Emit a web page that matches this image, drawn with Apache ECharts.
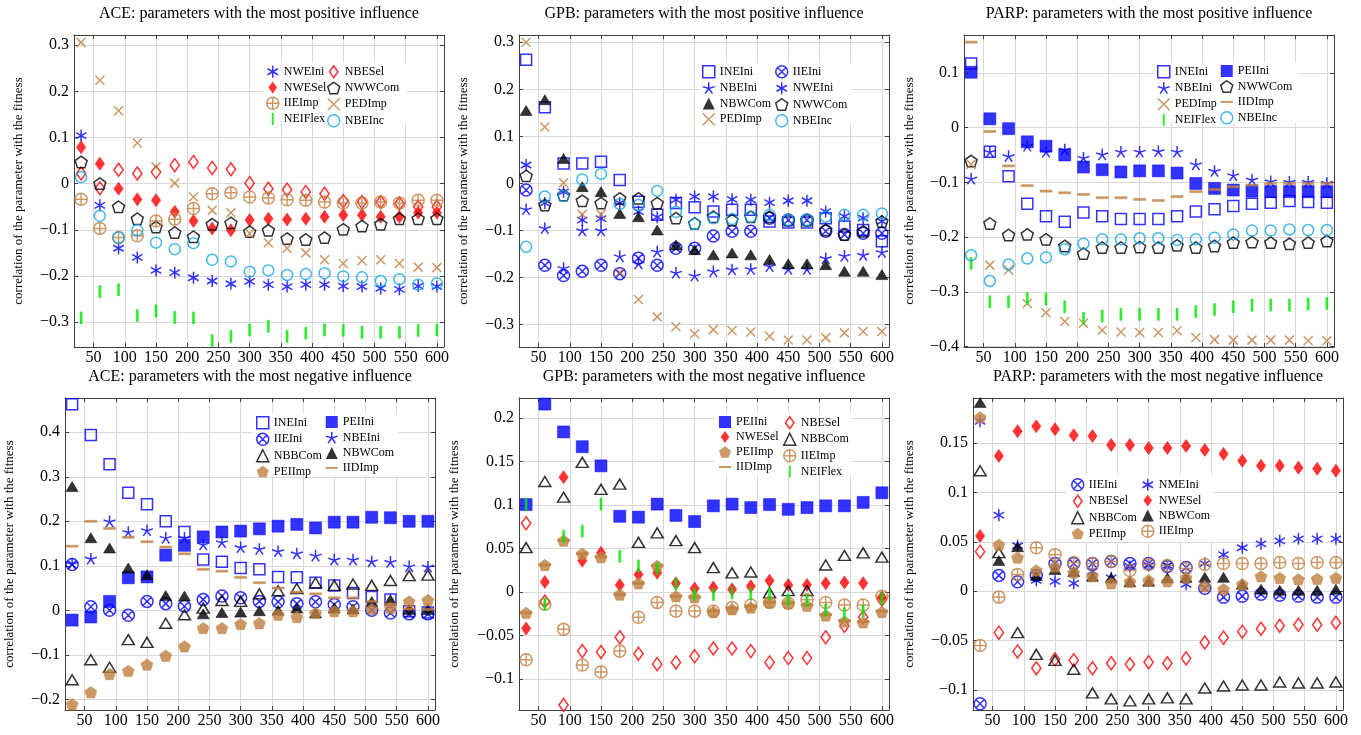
<!DOCTYPE html>
<html><head><meta charset="utf-8">
<script src="https://cdn.jsdelivr.net/npm/echarts@6/dist/echarts.min.js"></script>
<style>html,body{margin:0;padding:0;background:#fff}#c{width:1361px;height:735px}</style>
</head><body><div id="c"></div>
<script>
// ---------- data ----------
const xValues = [30,60,90,120,150,180,210,240,270,300,330,360,390,420,450,480,510,540,570,600];
const xTicks = [50,100,150,200,250,300,350,400,450,500,550,600];

// ACE: most positive
const acePos_NWEIni = [0.104,-0.047,-0.140,-0.160,-0.188,-0.193,-0.204,-0.211,-0.217,-0.212,-0.219,-0.223,-0.219,-0.219,-0.222,-0.223,-0.227,-0.229,-0.222,-0.223];
const acePos_NBESel = [0.022,-0.010,0.030,0.022,0.025,0.040,0.047,0.034,0.031,0.001,-0.011,-0.013,-0.018,-0.022,-0.038,-0.040,-0.040,-0.043,-0.050,-0.050];
const acePos_NWESel = [0.079,0.043,-0.011,-0.034,-0.036,-0.061,-0.081,-0.097,-0.101,-0.079,-0.076,-0.078,-0.076,-0.072,-0.068,-0.068,-0.072,-0.072,-0.063,-0.063];
const acePos_NWWCom = [0.047,0.000,-0.050,-0.076,-0.094,-0.106,-0.115,-0.088,-0.085,-0.104,-0.101,-0.119,-0.121,-0.117,-0.099,-0.092,-0.088,-0.076,-0.076,-0.076];
const acePos_IIEImp = [-0.034,-0.097,-0.117,-0.113,-0.081,-0.077,-0.054,-0.022,-0.020,-0.029,-0.031,-0.035,-0.036,-0.040,-0.042,-0.042,-0.040,-0.042,-0.036,-0.036];
const acePos_PEDImp = [0.306,0.224,0.158,0.088,0.036,0.001,-0.029,-0.058,-0.063,-0.108,-0.128,-0.140,-0.150,-0.165,-0.173,-0.167,-0.165,-0.173,-0.181,-0.182];
const acePos_NEIFlex = [-0.291,-0.234,-0.230,-0.286,-0.276,-0.290,-0.291,-0.340,-0.331,-0.317,-0.309,-0.331,-0.324,-0.317,-0.318,-0.322,-0.322,-0.322,-0.318,-0.317];
const acePos_NBEInc = [0.014,-0.070,-0.117,-0.101,-0.128,-0.142,-0.129,-0.165,-0.169,-0.191,-0.188,-0.198,-0.196,-0.194,-0.201,-0.203,-0.211,-0.207,-0.219,-0.216];

// GPB: most positive
const gpbPos_INEIni = [0.263,0.162,0.042,0.042,0.046,0.007,-0.039,-0.067,-0.042,-0.051,-0.060,-0.056,-0.056,-0.081,-0.083,-0.083,-0.074,-0.092,-0.099,-0.123];
const gpbPos_IIEIni = [-0.014,-0.174,-0.196,-0.187,-0.174,-0.192,-0.159,-0.174,-0.138,-0.138,-0.112,-0.102,-0.102,-0.074,-0.078,-0.078,-0.102,-0.109,-0.106,-0.106];
const gpbPos_NBEIni = [-0.055,-0.095,-0.180,-0.100,-0.100,-0.155,-0.170,-0.145,-0.190,-0.196,-0.187,-0.183,-0.182,-0.176,-0.182,-0.182,-0.159,-0.154,-0.152,-0.146];
const gpbPos_NWEIni = [0.039,-0.042,-0.018,-0.078,-0.075,-0.042,-0.060,-0.072,-0.035,-0.028,-0.028,-0.034,-0.035,-0.041,-0.037,-0.037,-0.060,-0.070,-0.074,-0.081];
const gpbPos_NBWCom = [0.155,0.178,0.053,-0.007,-0.018,-0.064,-0.071,-0.099,-0.131,-0.141,-0.152,-0.148,-0.152,-0.162,-0.171,-0.171,-0.173,-0.187,-0.187,-0.194];
const gpbPos_NWWCom = [0.016,-0.046,-0.025,-0.037,-0.042,-0.032,-0.032,-0.042,-0.074,-0.085,-0.071,-0.078,-0.071,-0.071,-0.078,-0.078,-0.099,-0.109,-0.102,-0.081];
const gpbPos_PEDImp = [0.300,0.120,0.001,-0.066,-0.066,-0.189,-0.247,-0.284,-0.305,-0.320,-0.311,-0.313,-0.316,-0.325,-0.333,-0.333,-0.328,-0.318,-0.315,-0.315];
const gpbPos_NBEInc = [-0.135,-0.028,-0.027,0.008,0.020,-0.044,-0.046,-0.016,-0.061,-0.086,-0.074,-0.076,-0.071,-0.067,-0.078,-0.078,-0.071,-0.067,-0.067,-0.064];

// PARP: most positive
const parpPos_INEIni = [0.117,-0.044,-0.089,-0.139,-0.162,-0.172,-0.155,-0.162,-0.167,-0.167,-0.167,-0.162,-0.153,-0.149,-0.143,-0.139,-0.137,-0.134,-0.136,-0.137];
const parpPos_PEIIni = [0.101,0.016,-0.002,-0.026,-0.034,-0.050,-0.072,-0.077,-0.081,-0.079,-0.079,-0.083,-0.102,-0.111,-0.114,-0.116,-0.117,-0.117,-0.117,-0.117];
const parpPos_NBEIni = [-0.093,-0.044,-0.052,-0.033,-0.044,-0.040,-0.055,-0.049,-0.044,-0.044,-0.043,-0.044,-0.067,-0.079,-0.087,-0.095,-0.098,-0.099,-0.099,-0.101];
const parpPos_NWWCom = [-0.061,-0.175,-0.196,-0.195,-0.204,-0.216,-0.230,-0.219,-0.219,-0.218,-0.219,-0.215,-0.219,-0.216,-0.210,-0.209,-0.210,-0.212,-0.210,-0.207];
const parpPos_PEDImp = [-0.067,-0.251,-0.260,-0.321,-0.338,-0.354,-0.357,-0.370,-0.373,-0.374,-0.374,-0.371,-0.383,-0.387,-0.388,-0.388,-0.388,-0.388,-0.389,-0.389];
const parpPos_IIDImp = [0.156,-0.007,-0.070,-0.106,-0.116,-0.119,-0.122,-0.128,-0.128,-0.131,-0.133,-0.126,-0.117,-0.113,-0.108,-0.105,-0.102,-0.102,-0.102,-0.102];
const parpPos_NEIFlex = [-0.248,-0.318,-0.318,-0.312,-0.313,-0.327,-0.348,-0.344,-0.341,-0.341,-0.341,-0.341,-0.336,-0.332,-0.327,-0.324,-0.324,-0.324,-0.322,-0.321];
const parpPos_NBEInc = [-0.233,-0.280,-0.250,-0.239,-0.237,-0.222,-0.212,-0.204,-0.204,-0.202,-0.202,-0.205,-0.204,-0.201,-0.195,-0.188,-0.188,-0.186,-0.187,-0.187];

// ACE: most negative
const aceNeg_INEIni = [0.463,0.394,0.328,0.264,0.238,0.200,0.176,0.114,0.109,0.095,0.092,0.075,0.074,0.062,0.056,0.039,0.030,0.024,-0.002,-0.005];
const aceNeg_PEIIni = [-0.022,-0.015,0.020,0.073,0.075,0.124,0.146,0.165,0.176,0.178,0.183,0.189,0.193,0.185,0.198,0.198,0.209,0.208,0.200,0.200];
const aceNeg_IIEIni = [0.103,0.008,0.000,-0.011,0.020,0.015,0.009,0.024,0.032,0.028,0.020,0.019,0.015,0.019,0.013,0.008,0.000,-0.006,-0.008,-0.008];
const aceNeg_NBEIni = [0.105,0.116,0.200,0.176,0.180,0.163,0.163,0.148,0.153,0.142,0.138,0.133,0.128,0.123,0.114,0.114,0.110,0.109,0.099,0.098];
const aceNeg_NBBCom = [-0.156,-0.111,-0.128,-0.066,-0.072,-0.029,-0.010,0.005,0.022,0.020,0.037,0.044,0.049,0.062,0.056,0.059,0.056,0.067,0.078,0.079];
const aceNeg_NBWCom = [0.278,0.163,0.140,0.095,0.080,0.033,0.032,-0.008,-0.005,-0.004,-0.001,0.000,0.005,-0.006,0.005,0.003,0.020,0.024,0.002,0.002];
const aceNeg_PEIImp = [-0.211,-0.184,-0.143,-0.136,-0.122,-0.102,-0.081,-0.040,-0.040,-0.031,-0.029,-0.010,-0.015,-0.006,-0.002,-0.002,0.003,0.005,0.020,0.023];
const aceNeg_IIDImp = [0.144,0.200,0.184,0.164,0.154,0.142,0.127,0.092,0.088,0.074,0.062,0.050,0.041,0.037,0.028,0.028,0.020,0.014,0.003,0.002];

// GPB: most negative
const gpbNeg_PEIIni = [0.1005,0.216,0.184,0.167,0.145,0.087,0.086,0.101,0.088,0.081,0.099,0.101,0.097,0.1005,0.095,0.097,0.099,0.099,0.103,0.114];
const gpbNeg_NBESel = [0.079,-0.011,-0.130,-0.068,-0.069,-0.052,-0.071,-0.083,-0.081,-0.074,-0.065,-0.065,-0.068,-0.081,-0.076,-0.076,-0.052,-0.039,-0.029,-0.009];
const gpbNeg_NWESel = [-0.042,0.0115,0.132,0.036,0.045,0.008,0.020,0.022,0.010,0.004,0.005,0.003,0.0065,0.013,0.008,0.008,0.010,0.011,0.010,-0.006];
const gpbNeg_NBBCom = [0.051,0.127,0.109,0.149,0.118,0.124,0.057,0.068,0.059,0.051,0.028,0.022,0.023,-0.001,0.0015,0.0015,0.031,0.042,0.045,0.040];
const gpbNeg_PEIImp = [-0.024,0.031,0.059,0.044,0.040,-0.003,0.010,0.030,-0.005,-0.006,-0.023,-0.020,-0.018,-0.012,-0.013,-0.016,-0.027,-0.034,-0.035,-0.023];
const gpbNeg_IIEImp = [-0.078,-0.014,-0.043,-0.084,-0.092,-0.068,-0.029,-0.012,-0.022,-0.022,-0.022,-0.018,-0.015,-0.012,-0.013,-0.009,-0.012,-0.015,-0.015,-0.005];
const gpbNeg_IIDImp = [-0.024,0.031,0.059,0.044,0.040,-0.003,0.010,0.030,-0.005,-0.006,-0.022,-0.019,-0.017,-0.012,-0.013,-0.015,-0.026,-0.033,-0.034,-0.022];
const gpbNeg_NEIFlex = [0.1005,-0.014,0.064,0.070,0.101,0.041,0.030,0.027,0.009,-0.003,-0.003,-0.001,-0.002,-0.002,-0.009,-0.010,-0.021,-0.025,-0.022,-0.008];

// PARP: most negative
const parpNeg_IIEIni = [-0.114,0.016,0.0095,0.016,0.028,0.028,0.028,0.030,0.028,0.028,0.025,0.024,0.003,-0.006,-0.005,-0.003,-0.004,-0.005,-0.006,-0.006];
const parpNeg_NMEIni = [0.172,0.077,0.046,0.011,0.010,0.008,0.020,0.0135,0.025,0.026,0.026,0.007,0.028,0.037,0.044,0.048,0.051,0.053,0.053,0.053];
const parpNeg_NBESel = [0.040,-0.042,-0.061,-0.078,-0.069,-0.070,-0.078,-0.073,-0.074,-0.072,-0.073,-0.068,-0.052,-0.047,-0.041,-0.038,-0.035,-0.034,-0.034,-0.032];
const parpNeg_NWESel = [0.056,0.137,0.162,0.167,0.164,0.158,0.157,0.148,0.148,0.145,0.145,0.147,0.143,0.139,0.132,0.127,0.127,0.125,0.124,0.122];
const parpNeg_NBBCom = [0.122,0.039,-0.042,-0.064,-0.070,-0.079,-0.103,-0.109,-0.111,-0.109,-0.108,-0.109,-0.098,-0.096,-0.095,-0.095,-0.092,-0.093,-0.093,-0.092];
const parpNeg_NBWCom = [0.191,0.031,0.045,0.016,0.022,0.020,0.015,0.0135,0.0095,0.010,0.0135,0.014,0.014,0.014,0.007,0.002,0.001,0.001,0.001,0.002];
const parpNeg_PEIImp = [0.176,0.047,0.034,0.021,0.025,0.019,0.015,0.008,0.0095,0.011,0.010,0.0135,0.005,0.002,0.007,0.015,0.0135,0.012,0.0125,0.0135];
const parpNeg_IIEImp = [-0.055,-0.006,0.017,0.044,0.037,0.029,0.028,0.030,0.021,0.027,0.026,0.023,0.027,0.028,0.028,0.028,0.029,0.028,0.029,0.029];

// tick labels
const yTicksAcePos = [-0.3,-0.2,-0.1,0,0.1,0.2,0.3];
const yTicksGpbPos = [-0.3,-0.2,-0.1,0,0.1,0.2,0.3];
const yTicksParpPos = [-0.4,-0.3,-0.2,-0.1,0,0.1];
const yTicksAceNeg = [-0.2,-0.1,0,0.1,0.2,0.3,0.4];
const yTicksGpbNeg = [-0.1,-0.05,0,0.05,0.1,0.15,0.2];
const yTicksParpNeg = [-0.1,-0.05,0,0.05,0.1,0.15];

// ---------- styles ----------
const FONT = "'Liberation Serif','Times New Roman',serif";
const BLUE='#0000FF', RED='#FF0000', BLACK='#000000', BROWN='#BF8040', GREEN='#00E800', CYAN='#12A8E8';
const ASTERISK='path://M0,-10L0,10M-8.66,-5L8.66,5M-8.66,5L8.66,-5';
const STAR='path://M0,0L0,-10M0,0L-9.51,-3.09M0,0L-5.88,8.09M0,0L5.88,8.09M0,0L9.51,-3.09';
const PENTAGON='path://M0,-10L9.51,-3.09L5.88,8.09L-5.88,8.09L-9.51,-3.09Z';
const OPLUS='path://M-10,0A10,10,0,1,1,10,0A10,10,0,1,1,-10,0ZM-10,0L10,0M0,-10L0,10';
const OTIMES='path://M-10,0A10,10,0,1,1,10,0A10,10,0,1,1,-10,0ZM-7.07,-7.07L7.07,7.07M-7.07,7.07L7.07,-7.07';
const CROSS='path://M-10,-10L10,10M-10,10L10,-10';
const DIAMOND='path://M0,-7L5,0L0,7L-5,0Z';
const BAR='path://M-1,-6L1,-6L1,6L-1,6Z';
const DASH='path://M-6,-1L6,-1L6,1L-6,1Z';

const STYLE = {
  NWEIni:{sym:ASTERISK,size:12,stroke:BLUE},
  NMEIni:{sym:ASTERISK,size:12,stroke:BLUE},
  NBEIni:{sym:STAR,size:12,stroke:BLUE},
  INEIni:{sym:'rect',size:11,stroke:BLUE},
  PEIIni:{sym:'rect',size:12,fill:BLUE},
  IIEIni:{sym:OTIMES,size:12,stroke:BLUE},
  NBESel:{sym:DIAMOND,size:13,stroke:RED},
  NWESel:{sym:DIAMOND,size:13,fill:RED},
  NWWCom:{sym:PENTAGON,size:12,stroke:BLACK},
  NBBCom:{sym:'triangle',size:[12,10],stroke:BLACK},
  NBWCom:{sym:'triangle',size:[12,10],fill:BLACK},
  IIEImp:{sym:OPLUS,size:12,stroke:BROWN},
  PEIImp:{sym:PENTAGON,size:12,fill:BROWN},
  PEDImp:{sym:CROSS,size:9,stroke:BROWN},
  IIDImp:{sym:DASH,size:12,fill:BROWN},
  NEIFlex:{sym:BAR,size:12,fill:GREEN},
  NBEInc:{sym:'circle',size:11,stroke:CYAN}
};

const W = 370, H = 312;
const panels = [
  {title:'ACE: parameters with the most positive influence', left:74, top:35, yMin:-0.354, yMax:0.322, yTicks:yTicksAcePos, nameGap:48.5,
   series:[['NWEIni',acePos_NWEIni],['NBESel',acePos_NBESel],['NWESel',acePos_NWESel],['NWWCom',acePos_NWWCom],['IIEImp',acePos_IIEImp],['PEDImp',acePos_PEDImp],['NEIFlex',acePos_NEIFlex],['NBEInc',acePos_NBEInc]],
   leg:{c1:['NWEIni','NWESel','IIEImp','NEIFlex'], c2:['NBESel','NWWCom','PEDImp','NBEInc'], x1:266, x2:327, y:65, box:[263,62,144,61]}},
  {title:'GPB: parameters with the most positive influence', left:519, top:35, yMin:-0.348, yMax:0.3155, yTicks:yTicksGpbPos, nameGap:48.5,
   series:[['INEIni',gpbPos_INEIni],['IIEIni',gpbPos_IIEIni],['NBEIni',gpbPos_NBEIni],['NWEIni',gpbPos_NWEIni],['NBWCom',gpbPos_NBWCom],['NWWCom',gpbPos_NWWCom],['PEDImp',gpbPos_PEDImp],['NBEInc',gpbPos_NBEInc]],
   leg:{c1:['INEIni','NBEIni','NBWCom','PEDImp'], c2:['IIEIni','NWEIni','NWWCom','NBEInc'], x1:702, x2:775, y:65, box:[700,62,152,61]}},
  {title:'PARP: parameters with the most positive influence', left:964, top:35, yMin:-0.4005, yMax:0.169, yTicks:yTicksParpPos, nameGap:47.5,
   series:[['INEIni',parpPos_INEIni],['PEIIni',parpPos_PEIIni],['NBEIni',parpPos_NBEIni],['NWWCom',parpPos_NWWCom],['PEDImp',parpPos_PEDImp],['IIDImp',parpPos_IIDImp],['NEIFlex',parpPos_NEIFlex],['NBEInc',parpPos_NBEInc]],
   leg:{c1:['INEIni','NBEIni','PEDImp','NEIFlex'], c2:['PEIIni','NWWCom','IIDImp','NBEInc'], x1:1157, x2:1220, y:65, box:[1153,62,145,61]}},
  {title:'ACE: parameters with the most negative influence', left:65, top:398, yMin:-0.224, yMax:0.477, yTicks:yTicksAceNeg, nameGap:48.5,
   series:[['INEIni',aceNeg_INEIni],['PEIIni',aceNeg_PEIIni],['IIEIni',aceNeg_IIEIni],['NBEIni',aceNeg_NBEIni],['NBBCom',aceNeg_NBBCom],['NBWCom',aceNeg_NBWCom],['PEIImp',aceNeg_PEIImp],['IIDImp',aceNeg_IIDImp]],
   leg:{c1:['INEIni','IIEIni','NBBCom','PEIImp'], c2:['PEIIni','NBEIni','NBWCom','IIDImp'], x1:256, x2:325, y:416, box:[252,413,146,62]}},
  {title:'GPB: parameters with the most negative influence', left:519, top:398, yMin:-0.1357, yMax:0.223, yTicks:yTicksGpbNeg, nameGap:57.5,
   series:[['PEIIni',gpbNeg_PEIIni],['NBESel',gpbNeg_NBESel],['NWESel',gpbNeg_NWESel],['NBBCom',gpbNeg_NBBCom],['PEIImp',gpbNeg_PEIImp],['IIEImp',gpbNeg_IIEImp],['IIDImp',gpbNeg_IIDImp],['NEIFlex',gpbNeg_NEIFlex]],
   leg:{c1:['PEIIni','NWESel','PEIImp','IIDImp'], c2:['NBESel','NBBCom','IIEImp','NEIFlex'], x1:719, x2:783, y:416, box:[715,413,136,62]}},
  {title:'PARP: parameters with the most negative influence', left:973, top:398, yMin:-0.1203, yMax:0.1956, yTicks:yTicksParpNeg, nameGap:56.5,
   series:[['IIEIni',parpNeg_IIEIni],['NMEIni',parpNeg_NMEIni],['NBESel',parpNeg_NBESel],['NWESel',parpNeg_NWESel],['NBBCom',parpNeg_NBBCom],['NBWCom',parpNeg_NBWCom],['PEIImp',parpNeg_PEIImp],['IIEImp',parpNeg_IIEImp]],
   leg:{c1:['IIEIni','NBESel','NBBCom','PEIImp'], c2:['NMEIni','NWESel','NBWCom','IIEImp'], x1:1071, x2:1141, y:478, box:[1067,475,147,67]}}
];

function fmt(v){ const r = +(+v).toFixed(3); return r < 0 ? '\u2212' + String(Math.abs(r)) : String(r); }
const AX = '#404040', GRIDC = '#d9d9d9';

const option = {animation:false, backgroundColor:'#fff', title:[], grid:[], xAxis:[], yAxis:[], series:[], legend:[], graphic:[]};

panels.forEach((p, i) => {
  option.grid.push({left:p.left, top:p.top, width:W, height:H, containLabel:false});
  option.title.push({text:p.title, left:p.left + W/2, top:p.top < 100 ? 6 : 369, textAlign:'center', padding:0,
    textStyle:{fontFamily:FONT, fontSize:16, fontWeight:'normal', color:'#000'}});
  const xMin = 18.6, xMax = 611.4;
  option.xAxis.push({type:'value', gridIndex:i, min:xMin, max:xMax,
    axisLine:{show:true, onZero:false, lineStyle:{color:AX, width:1}},
    axisTick:{show:true, inside:true, length:4, customValues:xTicks, lineStyle:{color:AX}},
    axisLabel:{customValues:xTicks, fontFamily:FONT, fontSize:16, color:'#000', margin:3, formatter:fmt},
    splitLine:{show:true, lineStyle:{color:GRIDC, width:1}}});
  option.xAxis.push({type:'value', gridIndex:i, position:'top', min:xMin, max:xMax,
    axisLine:{show:true, onZero:false, lineStyle:{color:AX, width:1}},
    axisTick:{show:true, inside:true, length:4, customValues:xTicks, lineStyle:{color:AX}},
    axisLabel:{show:false}, splitLine:{show:false}});
  option.yAxis.push({type:'value', gridIndex:i, min:p.yMin, max:p.yMax,
    name:'correlation of the parameter with the fitness', nameLocation:'middle', nameGap:p.nameGap,
    nameTextStyle:{fontFamily:FONT, fontSize:13, color:'#000'},
    axisLine:{show:true, onZero:false, lineStyle:{color:AX, width:1}},
    axisTick:{show:true, inside:true, length:4, customValues:p.yTicks, lineStyle:{color:AX}},
    axisLabel:{customValues:p.yTicks, fontFamily:FONT, fontSize:16, color:'#000', margin:5, formatter:fmt},
    splitLine:{show:true, lineStyle:{color:GRIDC, width:1}}});
  option.yAxis.push({type:'value', gridIndex:i, position:'right', min:p.yMin, max:p.yMax,
    axisLine:{show:true, onZero:false, lineStyle:{color:AX, width:1}},
    axisTick:{show:true, inside:true, length:4, customValues:p.yTicks, lineStyle:{color:AX}},
    axisLabel:{show:false}, splitLine:{show:false}});

  p.series.forEach(([name, vals]) => {
    const st = STYLE[name];
    const itemStyle = st.fill
      ? {color:st.fill, borderColor:st.fill, borderWidth:0.6}
      : {color:'rgba(0,0,0,0)', borderColor:st.stroke, borderWidth:1.5};
    option.series.push({type:'scatter', name:name, xAxisIndex:2*i, yAxisIndex:2*i,
      data: xValues.map((x, k) => [x, vals[k]]),
      symbol:st.sym, symbolSize:st.size, symbolKeepAspect:true, itemStyle:itemStyle, silent:true, z:2});
  });

  const legItem = n => ({name:n, itemStyle:{borderWidth: STYLE[n].fill ? 0 : 1.5}});
  const legBase = {orient:'vertical', padding:0, itemGap:3, itemWidth:12, itemHeight:12, selectedMode:false, z:5,
    textStyle:{fontFamily:FONT, fontSize:12, color:'#000', lineHeight:12}};
  option.legend.push(Object.assign({}, legBase, {left:p.leg.x1, top:p.leg.y, data:p.leg.c1.map(legItem)}));
  option.legend.push(Object.assign({}, legBase, {left:p.leg.x2, top:p.leg.y, data:p.leg.c2.map(legItem)}));
  const b = p.leg.box;
  option.graphic.push({type:'rect', shape:{x:b[0], y:b[1], width:b[2], height:b[3]}, style:{fill:'#fff'}, z:3, silent:true});
});

const chart = echarts.init(document.getElementById('c'), null, {renderer:'canvas'});
chart.setOption(option);
</script></body></html>
